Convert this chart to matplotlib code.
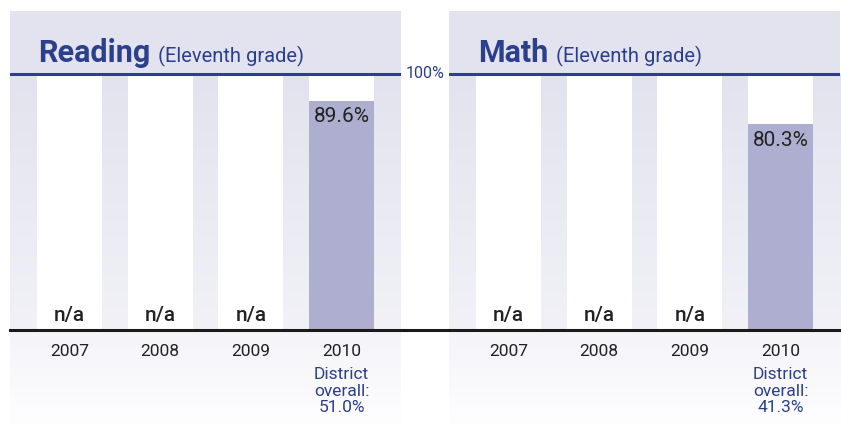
import numpy as np
import matplotlib
matplotlib.use("Agg")
from matplotlib import pyplot as plt
from matplotlib.colors import LinearSegmentedColormap

# data
years = ['2007', '2008', '2009', '2010']
reading = [np.nan, np.nan, np.nan, 89.6]
math_scores = [np.nan, np.nan, np.nan, 80.3]
district = {'Reading': 51.0, 'Math': 41.3}
panels = [('Reading', reading), ('Math', math_scores)]

BLUE = '#2b3f8c'
LAV = '#e3e3ef'
BAR = '#aeaed0'
DARK = '#222222'

plt.rcParams['font.family'] = ['Roboto', 'DejaVu Sans']

W, H = 841, 425
fig = plt.figure(figsize=(W / 100, H / 100), dpi=100)

# pixel geometry: baseline at 95px from bottom, 100% at 351px
ymin, ymax = -95 / 2.56, (414 - 95) / 2.56
lefts = [10, 449]

top_cmap = LinearSegmentedColormap.from_list('top', [LAV, '#f1f1f7'])
bot_cmap = LinearSegmentedColormap.from_list('bot', ['#f4f4f9', '#fefeff'])

for (name, vals), left in zip(panels, lefts):
    ax = fig.add_axes([left / W, 0, 391 / W, 414 / H])
    ax.set_facecolor(LAV)
    for s in ax.spines.values():
        s.set_visible(False)
    ax.set_xticks([])
    ax.set_yticks([])

    # background gradients
    grad = np.linspace(0, 1, 100).reshape(-1, 1)
    ax.imshow(grad, cmap=top_cmap, extent=(-0.656, 3.656, 0, 100),
              origin='upper', aspect='auto', zorder=0)
    ax.imshow(grad, cmap=bot_cmap, extent=(-0.656, 3.656, ymin, 0),
              origin='upper', aspect='auto', zorder=0)

    x = np.arange(len(years))
    ax.bar(x, [100] * len(years), width=0.717, color='white', zorder=1)
    ax.bar(x, np.nan_to_num(vals), width=0.717, color=BAR, zorder=2)

    ax.axhline(100, color=BLUE, lw=2.2, zorder=3)

    for i, v in enumerate(vals):
        if np.isnan(v):
            ax.text(i, 2, 'n/a', ha='center', va='bottom', fontsize=15,
                    fontweight='medium', color=DARK, zorder=4)
        else:
            ax.text(i, v - 2.5, f'{v:.1f}%', ha='center', va='top',
                    fontsize=15, color=DARK, zorder=4)
        ax.text(i, -5.5, years[i], ha='center', va='top', fontsize=12.5,
                color=DARK, zorder=4)

    ax.text(3, -14.6, f'District\noverall:\n{district[name]:.1f}%',
            ha='center', va='top', fontsize=12.5, color=BLUE,
            linespacing=1.12, zorder=4)

    ax.set_xlim(-0.656, 3.656)
    ax.set_ylim(ymin, ymax)

# black baseline across both panels
fig.add_artist(plt.Line2D([10 / W, 839 / W], [95 / H, 95 / H],
                          color='#1a1a1a', lw=2.2))

# titles
fig.text(38 / W, (H - 62) / H, 'Reading', fontsize=22, fontweight='bold',
         color=BLUE, va='baseline')
fig.text(158 / W, (H - 62) / H, '(Eleventh grade)', fontsize=14.5,
         color=BLUE, va='baseline')
fig.text(478 / W, (H - 62) / H, 'Math', fontsize=22, fontweight='bold',
         color=BLUE, va='baseline')
fig.text(556 / W, (H - 62) / H, '(Eleventh grade)', fontsize=14.5,
         color=BLUE, va='baseline')

fig.text(425 / W, (H - 73) / H, '100%', fontsize=11.5, color=BLUE,
         ha='center', va='center')

fig.savefig('out.png', dpi=100)
